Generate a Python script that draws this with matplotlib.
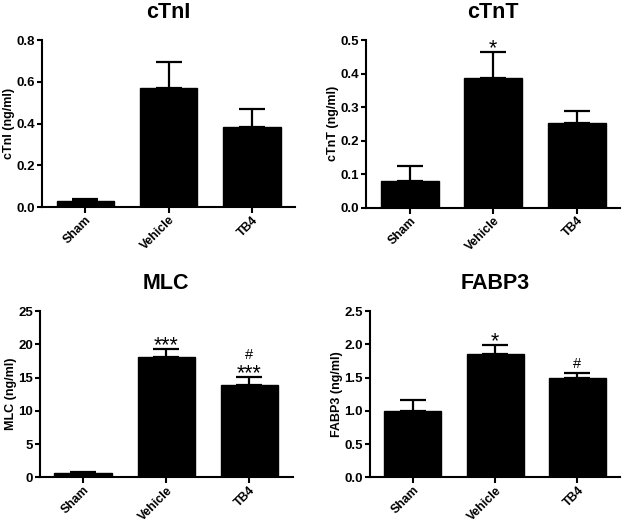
import numpy as np
import matplotlib
matplotlib.use("Agg")
import matplotlib.pyplot as plt

plt.rcParams['font.family'] = ['Liberation Sans', 'DejaVu Sans']
plt.rcParams['font.weight'] = 'bold'

groups = ["Sham", "Vehicle", "TB4"]

ctni = [0.028, 0.571, 0.385]
ctni_err = [0.013, 0.125, 0.085]

ctnt = [0.078, 0.386, 0.252]
ctnt_err = [0.046, 0.079, 0.037]

mlc = [0.7, 18.08, 13.94]
mlc_err = [0.12, 1.19, 1.15]

fabp3 = [0.996, 1.853, 1.494]
fabp3_err = [0.16, 0.137, 0.075]

# significance marks above each error bar, bottom to top
ctni_marks = [[], [], []]
ctnt_marks = [[], ["*"], []]
mlc_marks = [[], ["***"], ["***", "#"]]
fabp3_marks = [[], ["*"], ["#"]]

panels = [
    ("cTnI", "cTnI (ng/ml)", ctni, ctni_err, ctni_marks, 0.8, 0.2, "{:.1f}",
     [0.0673, 0.604, 0.4057, 0.3195]),
    ("cTnT", "cTnT (ng/ml)", ctnt, ctnt_err, ctnt_marks, 0.5, 0.1, "{:.1f}",
     [0.587, 0.603, 0.407, 0.3205]),
    ("MLC", "MLC (ng/ml)", mlc, mlc_err, mlc_marks, 25, 5, "{:.0f}",
     [0.064, 0.0875, 0.405, 0.3175]),
    ("FABP3", "FABP3 (ng/ml)", fabp3, fabp3_err, fabp3_marks, 2.5, 0.5, "{:.1f}",
     [0.593, 0.0875, 0.401, 0.3175]),
]

fig = plt.figure(figsize=(6.24, 5.23), dpi=100)
px = 72 / 100  # points per pixel

x = np.arange(len(groups))
for title, ylabel, vals, errs, marks, ymax, step, fmt, rect in panels:
    ax = fig.add_axes(rect)
    ax.errorbar(x, vals, yerr=[np.zeros(3), errs], fmt="none", ecolor="black",
                elinewidth=1.6, capsize=9.5, capthick=1.6, zorder=1)
    ax.bar(x, vals, width=0.69, color="black", edgecolor="black", zorder=2)
    for i in range(3):
        top = vals[i] + errs[i]
        cur = 0  # pixels above error cap
        for m in marks[i]:
            if "*" in m:
                base = cur - 2
                size = 15.5
                cur = base + 16
            else:
                base = cur + 5 if cur == 0 else cur + 4
                size = 10.5
                cur = base + 16
            ax.annotate(m, (x[i], top), xytext=(0, base * px), textcoords="offset points",
                        ha="center", va="baseline", fontsize=size, fontweight="normal")
    ax.set_xlim(-0.52, 2.52)
    ax.set_ylim(0, ymax)
    ticks = np.arange(0, ymax + step / 2, step)
    ax.set_yticks(ticks)
    ax.set_yticklabels([fmt.format(t) for t in ticks])
    ax.set_xticks(x)
    ax.set_xticklabels(groups, rotation=45, ha="right", rotation_mode="anchor")
    ax.spines["top"].set_visible(False)
    ax.spines["right"].set_visible(False)
    ax.spines["left"].set_linewidth(1.5)
    ax.spines["bottom"].set_linewidth(1.5)
    ax.tick_params(axis="y", labelsize=9.5, width=1.5, length=3.5, pad=1.5)
    ax.tick_params(axis="x", labelsize=8.8, width=1.5, length=4, pad=1)
    ax.set_ylabel(ylabel, fontsize=9, fontweight="bold", labelpad=1)
    ax.set_title(title, fontsize=15.5, fontweight="bold", pad=16)

fig.savefig("out.png", dpi=100)
